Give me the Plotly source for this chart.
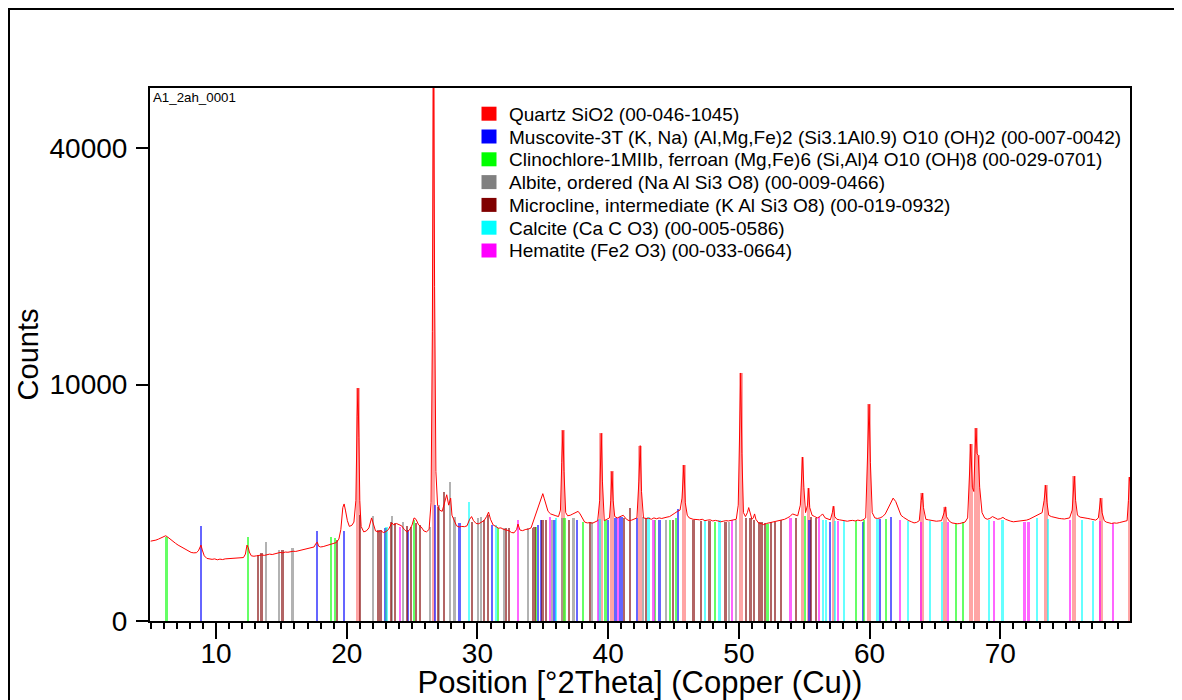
import numpy as np
import plotly.graph_objects as go

# ---------------- measured pattern (2Theta, counts) ----------------
two_theta = [
    5.00, 5.2, 5.4, 5.6, 5.8, 6.0, 6.15, 6.3, 6.5, 6.7, 6.9, 7.1, 7.3, 7.5, 7.7, 7.9, 8.1, 8.3, 8.5, 8.65, 8.75, 8.85, 8.95,
    9.1, 9.3, 9.5, 9.7, 9.9, 10.1, 10.3, 10.5, 10.7, 10.9, 11.1, 11.3, 11.5, 11.7, 11.9, 12.1, 12.25, 12.37, 12.47, 12.55,
    12.7, 12.9, 13.1, 13.3, 13.5, 13.7, 13.9, 14.1, 14.3, 14.5, 14.7, 14.9, 15.1, 15.3, 15.5, 15.7, 15.9, 16.1, 16.3, 16.5,
    16.7, 16.9, 17.1, 17.3, 17.5, 17.65, 17.75, 17.85, 18.0, 18.2, 18.4, 18.6, 18.8, 19.0, 19.2, 19.4, 19.55, 19.7, 19.8,
    19.9, 20.05, 20.2, 20.4, 20.55, 20.7, 20.8, 20.86, 20.93, 21.0, 21.1, 21.3, 21.5, 21.7, 21.9, 22.05, 22.2, 22.4, 22.6,
    22.8, 23.0, 23.2, 23.45, 23.6, 23.8, 24.0, 24.2, 24.4, 24.6, 24.8, 25.0, 25.15, 25.3, 25.5, 25.7, 25.9, 26.1, 26.3,
    26.45, 26.55, 26.64, 26.72, 26.82, 26.95, 27.1, 27.3, 27.5, 27.65, 27.8, 27.95, 28.05, 28.2, 28.4, 28.6, 28.8, 29.0,
    29.2, 29.4, 29.55, 29.7, 29.9, 30.1, 30.3, 30.5, 30.7, 30.85, 31.0, 31.2, 31.4, 31.6, 31.8, 32.0, 32.2, 32.4, 32.6,
    32.8, 33.0, 33.1, 33.25, 33.45, 33.7, 33.9, 34.1, 34.3, 34.5, 34.7, 34.85, 35.0, 35.1, 35.25, 35.4, 35.6, 35.8, 36.0,
    36.2, 36.35, 36.45, 36.54, 36.62, 36.75, 36.9, 37.1, 37.3, 37.5, 37.7, 37.85, 38.0, 38.2, 38.4, 38.6, 38.8, 39.0,
    39.2, 39.35, 39.47, 39.56, 39.7, 39.9, 40.1, 40.2, 40.29, 40.38, 40.5, 40.7, 40.9, 41.15, 41.4, 41.6, 41.8, 42.0,
    42.2, 42.35, 42.45, 42.55, 42.7, 42.9, 43.1, 43.3, 43.5, 43.7, 43.9, 44.1, 44.3, 44.5, 44.7, 44.9, 45.1, 45.3, 45.5,
    45.65, 45.79, 45.9, 46.05, 46.2, 46.5, 46.8, 47.0, 47.2, 47.4, 47.6, 47.8, 48.0, 48.2, 48.4, 48.6, 48.8, 49.0, 49.2,
    49.4, 49.6, 49.8, 49.95, 50.05, 50.14, 50.23, 50.35, 50.5, 50.65, 50.75, 50.85, 51.0, 51.1, 51.2, 51.3, 51.5, 51.7,
    51.9, 52.1, 52.3, 52.5, 52.7, 52.9, 53.1, 53.3, 53.5, 53.7, 53.9, 54.1, 54.3, 54.5, 54.7, 54.87, 54.97, 55.1, 55.25,
    55.33, 55.42, 55.6, 55.8, 56.0, 56.2, 56.4, 56.6, 56.8, 57.0, 57.15, 57.24, 57.33, 57.5, 57.7, 57.9, 58.1, 58.3,
    58.5, 58.7, 58.9, 59.1, 59.3, 59.5, 59.7, 59.85, 59.96, 60.06, 60.2, 60.4, 60.6, 60.8, 61.0, 61.2, 61.4, 61.6, 61.8,
    62.0, 62.2, 62.4, 62.6, 62.8, 63.0, 63.2, 63.4, 63.6, 63.8, 63.95, 64.03, 64.12, 64.3, 64.5, 64.7, 64.9, 65.1, 65.3,
    65.5, 65.7, 65.79, 65.88, 66.1, 66.3, 66.5, 66.7, 66.9, 67.1, 67.3, 67.5, 67.62, 67.74, 67.86, 67.97, 68.06, 68.14,
    68.22, 68.31, 68.42, 68.6, 68.8, 69.0, 69.2, 69.4, 69.6, 69.8, 70.0, 70.2, 70.4, 70.6, 70.8, 71.0, 71.2, 71.4, 71.6,
    71.8, 72.0, 72.2, 72.4, 72.6, 72.8, 73.0, 73.2, 73.35, 73.47, 73.57, 73.7, 73.9, 74.1, 74.3, 74.5, 74.7, 74.9, 75.1,
    75.3, 75.5, 75.66, 75.76, 75.9, 76.1, 76.3, 76.5, 76.7, 76.9, 77.1, 77.3, 77.5, 77.62, 77.68, 77.78, 77.95, 78.1,
    78.3, 78.5, 78.7, 78.9, 79.1, 79.3, 79.5, 79.7, 79.8, 79.88, 79.93,
]
counts = [
    1140, 1150, 1170, 1200, 1240, 1270, 1300, 1260, 1190, 1130, 1080, 1030, 990, 950, 900, 870, 840, 830, 835, 880, 960, 1030, 900,
    760, 700, 690, 680, 690, 670, 685, 675, 690, 695, 685, 700, 695, 705, 710, 720, 800, 1030, 960, 850,
    760, 750, 760, 770, 780, 770, 790, 800, 790, 810, 820, 840, 830, 850, 845, 860, 870, 865, 880, 890,
    900, 920, 930, 950, 980, 1080, 1110, 1000, 980, 990, 1010, 1030, 1040, 1060, 1100, 1200, 1500, 2300, 2450,
    2200, 1800, 1600, 1640, 1750, 2600, 7500, 9700, 6000, 2600, 1600, 1420, 1450, 1550, 1900, 1700, 1450, 1420, 1460,
    1400, 1430, 1500, 1720, 1650, 1700, 1660, 1620, 1500, 1420, 1480, 1650, 1900, 1850, 1650, 1580, 1450, 1420, 1500,
    2500, 15000, 60000, 20000, 4000, 2400, 2200, 2150, 2600, 2850, 2400, 2700, 2000, 1800, 1620, 1580, 1600, 1590,
    1620, 1850, 1950, 1800, 1700, 1690, 1750, 1800, 1950, 2120, 1850, 1650, 1600, 1540, 1550, 1500, 1480, 1460, 1400,
    1390, 1500, 1680, 1480, 1460, 1500, 1510, 1550, 1800, 2100, 2350, 2600, 2900, 2700, 2400, 2150, 2050, 2000, 1980,
    1950, 2200, 4500, 6500, 4000, 2100, 1980, 2000, 2050, 2100, 2150, 2050, 1900, 1750, 1720, 1730, 1710, 1750,
    1800, 2600, 6300, 3500, 1800, 1850, 1900, 2600, 4000, 2600, 1950, 1900, 1950, 2000, 1850, 1800, 1820, 1850,
    1900, 3500, 5500, 3000, 1900, 1880, 1890, 1850, 1900, 1870, 1900, 1880, 1920, 1930, 1950, 2000, 2080, 2150, 2200,
    2700, 4350, 2500, 2000, 1900, 1850, 1840, 1830, 1850, 1800, 1820, 1830, 1790, 1810, 1790, 1760, 1780, 1800, 1790,
    1810, 1830, 1850, 2400, 7000, 11000, 5000, 2100, 1950, 2100, 2300, 2100, 1850, 1900, 2050, 1850, 1720, 1700,
    1660, 1700, 1720, 1740, 1760, 1780, 1800, 1830, 1850, 1900, 1950, 2050, 2000, 1980, 2400, 4800, 3200, 2100, 2400,
    3150, 2300, 2000, 1950, 1900, 1950, 2050, 1900, 1850, 1830, 2100, 2350, 1950, 1850, 1830, 1820, 1800, 1780,
    1800, 1810, 1790, 1820, 1800, 1830, 1900, 4500, 8400, 4500, 2100, 1900, 1880, 1900, 1950, 2050, 2250, 2500, 2700,
    2550, 2250, 2000, 1920, 1850, 1800, 1760, 1720, 1740, 1800, 2600, 2930, 2300, 1850, 1830, 1810, 1800, 1780, 1790,
    1800, 2100, 2330, 1950, 1780, 1720, 1700, 1690, 1700, 1720, 1750, 1900, 3500, 5600, 3200, 3000, 5000, 6650,
    5000, 4900, 3200, 2100, 1900, 1850, 1880, 1950, 1900, 1850, 1870, 1920, 1850, 1800, 1780, 1760, 1770, 1790, 1780,
    1800, 1820, 1850, 1900, 1950, 2000, 2050, 2100, 2600, 3300, 2500, 2000, 1950, 1920, 1900, 1880, 1870, 1860, 1880,
    1900, 2200, 3750, 2600, 2000, 1930, 1920, 1900, 1880, 1860, 1850, 1820, 1900, 2500, 2700, 2100, 1800, 1750,
    1720, 1700, 1720, 1710, 1730, 1750, 1760, 1800, 2600, 3700, 3500,
]

# ---------------- reference patterns (stick positions and heights, counts) ----------------
quartz_pos = [20.86, 26.64, 36.54, 39.47, 40.29, 42.45, 45.79, 50.14, 54.87, 55.33, 57.24, 59.96, 64.03, 65.79,
              67.74, 68.14, 68.31, 73.47, 75.66, 77.68, 79.88]
quartz_h = [9700, 60000, 6500, 6300, 4000, 5500, 4350, 11000, 4800, 3150, 2350, 8400, 2930, 2330,
            5600, 6650, 4900, 3300, 3750, 2700, 3700]

muscovite_pos = [8.85, 17.72, 19.81, 22.95, 24.7, 26.75, 28.65, 31.13, 34.64, 34.9, 35.92, 37.65, 40.0, 40.58,
                 40.9, 41.1, 42.24, 43.95, 45.34, 55.42, 57.0, 59.49, 60.8, 61.66]
muscovite_h = [1620, 1448, 1448, 1546, 1481, 2406, 1717, 1648, 1648, 1824, 1824, 1824, 1824, 1897,
               1934, 1934, 1897, 1824, 2243, 1824, 1752, 1752, 1860, 1934]

clinochlore_pos = [6.23, 12.47, 18.79, 19.1, 25.14, 31.6, 34.52, 36.68, 38.08, 39.82, 43.62, 44.77, 45.22, 48.2,
                   52.2, 55.05, 58.98, 59.62, 61.28, 66.63, 67.19]
clinochlore_h = [1275, 1267, 1270, 1232, 1824, 1546, 1580, 1897, 1752, 1824, 1824, 1824, 1897, 1752,
                 1682, 1971, 1788, 1824, 1860, 1682, 1752]

albite_pos = [13.87, 14.85, 15.87, 22.03, 23.5, 24.3, 26.36, 27.05, 27.9, 28.27, 30.05, 30.3, 32.04, 33.88,
              35.7, 36.5, 37.37, 38.8, 42.67, 44.46, 49.24, 49.81]
albite_h = [1125, 901, 953, 1971, 1971, 1752, 1580, 2406, 3454, 1934, 1897, 1934, 1546, 1546,
            1824, 1897, 1897, 1752, 1934, 1824, 1752, 1824]

microcline_pos = [13.23, 13.5, 15.1, 19.28, 21.06, 22.44, 22.6, 23.05, 23.38, 23.7, 24.6, 24.96, 25.34, 25.6,
                  27.0, 27.45, 29.62, 30.5, 30.8, 32.22, 32.42, 34.26, 34.39, 35.0, 35.28, 37.0, 38.65, 41.2,
                  41.7, 42.9, 44.96, 46.54, 47.13, 47.77, 48.99, 50.58, 50.9, 51.2, 51.6, 51.8, 52.0, 52.5,
                  52.8, 53.25, 54.4, 55.54, 55.92]
microcline_h = [779, 827, 901, 1173, 2009, 1481, 1481, 1546, 1752, 1717, 1614, 1580, 1717, 1648,
                2324, 2975, 1752, 1824, 2009, 1546, 1546, 1546, 1580, 1824, 1824, 1824, 1752, 1897,
                2283, 1897, 1824, 1824, 1788, 1788, 1752, 1897, 1897, 1824, 1752, 1752, 1717, 1752,
                1752, 1824, 1897, 1934, 1897]

calcite_pos = [23.06, 29.37, 31.41, 36.0, 39.36, 43.1, 47.43, 48.53, 56.43, 56.69, 57.38, 58.03, 60.63, 62.98,
               64.64, 65.56, 69.17, 70.19, 72.82, 73.68, 76.26, 77.13]
calcite_h = [1580, 2532, 1648, 1897, 1860, 1934, 1824, 1824, 1824, 1824, 1788, 1788, 1860, 1788,
             1788, 1752, 1824, 1824, 1897, 1860, 1824, 1788]

hematite_pos = [24.09, 33.11, 35.59, 39.23, 40.8, 43.49, 49.47, 53.96, 56.12, 57.58, 62.37, 63.98, 65.99, 69.53,
                71.87, 72.18, 75.35, 77.64, 78.66]
hematite_h = [1580, 1824, 1934, 1824, 1897, 1824, 1824, 1897, 1934, 1788, 1824, 1752, 1752, 1788,
              1752, 1752, 1824, 1788, 1717]

phase_names = [
    "Quartz SiO2 (00-046-1045)",
    "Muscovite-3T (K, Na) (Al,Mg,Fe)2 (Si3.1Al0.9) O10 (OH)2 (00-007-0042)",
    "Clinochlore-1MIIb, ferroan (Mg,Fe)6 (Si,Al)4 O10 (OH)8 (00-029-0701)",
    "Albite, ordered (Na Al Si3 O8) (00-009-0466)",
    "Microcline, intermediate (K Al Si3 O8) (00-019-0932)",
    "Calcite (Ca C O3) (00-005-0586)",
    "Hematite (Fe2 O3) (00-033-0664)",
]
phase_colors = ["#FF0000", "#0000FF", "#00FF00", "#808080", "#800000", "#00FFFF", "#FF00FF"]
phase_pos = [quartz_pos, muscovite_pos, clinochlore_pos, albite_pos, microcline_pos, calcite_pos, hematite_pos]
phase_h = [quartz_h, muscovite_h, clinochlore_h, albite_h, microcline_h, calcite_h, hematite_h]

y_ticks = [0, 10000, 40000]
x_ticks = [10, 20, 30, 40, 50, 60, 70]
x_range = [4.95, 79.92]
y_top_counts = 50800
scan_name = "A1_2ah_0001"
x_title = "Position [°2Theta] (Copper (Cu))"
y_title = "Counts"

FONT = "Liberation Sans, Arial, sans-serif"

# ---------------- layout geometry (figure pixels) ----------------
W, H = 1170, 692
PL, PR, PT, PB = 142, 1122, 80, 613   # plot area edges


def px_x(x):
    return (x - PL) / (PR - PL)


def px_y(y):
    return (PB - y) / (PB - PT)


fig = go.Figure()

# sticks (square-root intensity scale)
for name, color, pos, h in zip(phase_names, phase_colors, phase_pos, phase_h):
    is_q = color == "#FF0000"
    fig.add_trace(go.Bar(
        x=pos, y=np.sqrt(h), width=0.28 if is_q else 0.13,
        marker=dict(color=color, line=dict(width=0)),
        opacity=0.35 if is_q else 0.6,
        name=name, showlegend=False, hoverinfo="x+name",
    ))

# measured pattern
fig.add_trace(go.Scatter(
    x=two_theta, y=np.sqrt(counts), mode="lines",
    line=dict(color="#FF0000", width=1), name=scan_name, showlegend=False,
))

# legend (drawn as boxes + text to match the row spacing)
annotations = [dict(
    text=scan_name, xref="paper", yref="paper", x=px_x(PL + 1), y=1.0,
    xanchor="left", yanchor="top", showarrow=False, font=dict(size=13.3, family=FONT),
)]
shapes = [dict(
    type="rect", xref="paper", yref="paper",
    x0=px_x(1), x1=px_x(1168), y0=px_y(720), y1=px_y(1),
    line=dict(color="black", width=2), fillcolor="rgba(0,0,0,0)", layer="above",
)]
for i, (name, color) in enumerate(zip(phase_names, phase_colors)):
    yc = 105.7 + 22.8 * i
    shapes.append(dict(
        type="rect", xref="paper", yref="paper",
        xsizemode="pixel", ysizemode="pixel",
        xanchor=px_x(481), yanchor=px_y(yc),
        x0=-7.5, x1=7.5, y0=-7, y1=7,
        fillcolor=color, line=dict(width=0),
    ))
    annotations.append(dict(
        text=name, xref="paper", yref="paper", x=px_x(499), y=px_y(yc + 0.5),
        xanchor="left", yanchor="middle", showarrow=False,
        font=dict(size=19, family=FONT),
    ))

fig.update_layout(
    width=W, height=H,
    margin=dict(l=PL, r=W - PR, t=PT, b=H - PB, autoexpand=False),
    paper_bgcolor="white", plot_bgcolor="white",
    barmode="overlay", bargap=0,
    font=dict(family=FONT, color="black"),
    showlegend=False,
    annotations=annotations,
    shapes=shapes,
)

fig.update_xaxes(
    range=x_range, tickmode="array", tickvals=x_ticks,
    ticks="outside", ticklen=16, tickwidth=1.5, tickcolor="black",
    minor=dict(dtick=1, tick0=0, ticks="outside", ticklen=6, tickwidth=1.5, tickcolor="black", showgrid=False),
    showline=True, linewidth=2, linecolor="black", mirror=True,
    showgrid=False, zeroline=False, automargin=False,
    tickfont=dict(size=28, family=FONT), ticklabelstandoff=-10,
    title=dict(text="\u00a0\u00a0" + x_title, font=dict(size=31, family=FONT), standoff=11),
)
fig.update_yaxes(
    range=[0, float(np.sqrt(y_top_counts))], tickmode="array",
    tickvals=list(np.sqrt(y_ticks)), ticktext=[str(v) for v in y_ticks],
    ticks="outside", ticklen=12, tickwidth=1.5, tickcolor="black",
    showline=True, linewidth=2, linecolor="black", mirror=True,
    showgrid=False, zeroline=False, automargin=False,
    tickfont=dict(size=28, family=FONT), ticklabelstandoff=3,
    title=dict(text=y_title, font=dict(size=29, family=FONT), standoff=2),
)

fig.write_html("out.html")
